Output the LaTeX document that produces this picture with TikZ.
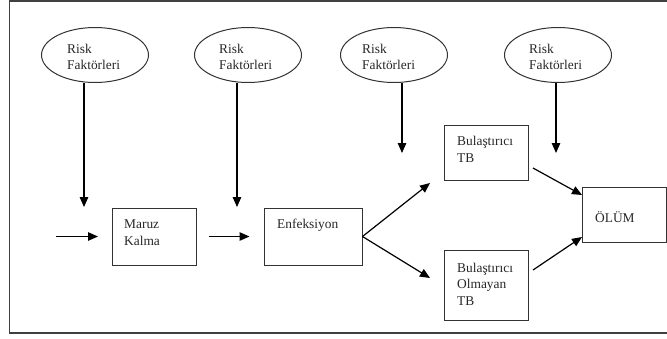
\documentclass[tikz,border=0pt]{standalone}
\usepackage{fontspec}
\setmainfont{Liberation Serif}
\usetikzlibrary{shapes.geometric,arrows.meta}
\begin{document}
\begin{tikzpicture}[x=1pt,y=-1pt,
  frameline/.style={draw=black!75,line width=1.3pt},
  riskell/.style={draw=black!80,line width=1pt,ellipse,minimum width=107pt,minimum height=55pt,inner sep=0pt},
  boxn/.style={draw=black!80,line width=1pt,rectangle,inner sep=0pt},
  txt/.style={anchor=base west,inner sep=0pt,font=\fontsize{13.4pt}{16.5pt}\selectfont,align=left,text=black!85},
  arr/.style={line width=1.2pt,-{Triangle[length=10pt,width=8.5pt]}}]
\useasboundingbox (0,0) rectangle (667,338);
% frame
\draw[frameline] (667,1) -- (9.5,1) -- (9.5,333) -- (667,333);
% ellipses
\node[riskell] (e1) at (95,55) {};
\node[riskell] (e2) at (248,55) {};
\node[riskell] (e3) at (394,55) {};
\node[riskell] (e4) at (558,55) {};
% text nodes placed at the baseline of their last line
\node[txt] (t1) at (67,69.5) {Risk\\Faktörleri};
\node[txt] (t2) at (219,69.5) {Risk\\Faktörleri};
\node[txt] (t3) at (362,69.5) {Risk\\Faktörleri};
\node[txt] (t4) at (529,69.5) {Risk\\Faktörleri};
% boxes
\node[boxn,minimum width=84pt,minimum height=57pt] (mk) at (154,236.5) {};
\node[boxn,minimum width=98pt,minimum height=57pt] (enf) at (313,236.5) {};
\node[boxn,minimum width=84pt,minimum height=55pt] (btb) at (486,152.5) {};
\node[boxn,minimum width=84pt,minimum height=70pt] (otb) at (486,285) {};
\node[boxn,minimum width=84pt,minimum height=55pt] (olum) at (624,214.5) {};
\node[txt] (tmk) at (124,245) {Maruz\\Kalma};
\node[txt] (tenf) at (277,228.5) {Enfeksiyon};
\node[txt] (tbtb) at (457,162) {Bulaştırıcı\\TB};
\node[txt] (totb) at (457,305) {Bulaştırıcı\\Olmayan\\TB};
\node[txt] (tolum) at (595,222) {ÖLÜM};
% arrow end points
\coordinate (a1) at (84,207);
\coordinate (a2) at (237,207);
\coordinate (a3) at (402,153);
\coordinate (a4) at (556,153);
\coordinate (s0) at (56,236.5);
\coordinate (m0) at (98,236.5);
\coordinate (b1) at (430,183);
\coordinate (b2) at (430,278);
\coordinate (c1) at (533,168);
\coordinate (c2) at (533,270);
\coordinate (d1) at (582,195);
\coordinate (d2) at (582,237);
% arrows
\draw[arr] (a1 |- e1.south) -- (a1);
\draw[arr] (a2 |- e2.south) -- (a2);
\draw[arr] (a3 |- e3.south) -- (a3);
\draw[arr] (a4 |- e4.south) -- (a4);
\draw[arr] (s0) -- (m0);
\draw[arr,shorten <=12pt,shorten >=14pt] (mk.east) -- (enf.west);
\draw[arr] (enf.east) -- (b1);
\draw[arr] (enf.east) -- (b2);
\draw[arr] (c1) -- (d1);
\draw[arr] (c2) -- (d2);
\end{tikzpicture}
\end{document}
